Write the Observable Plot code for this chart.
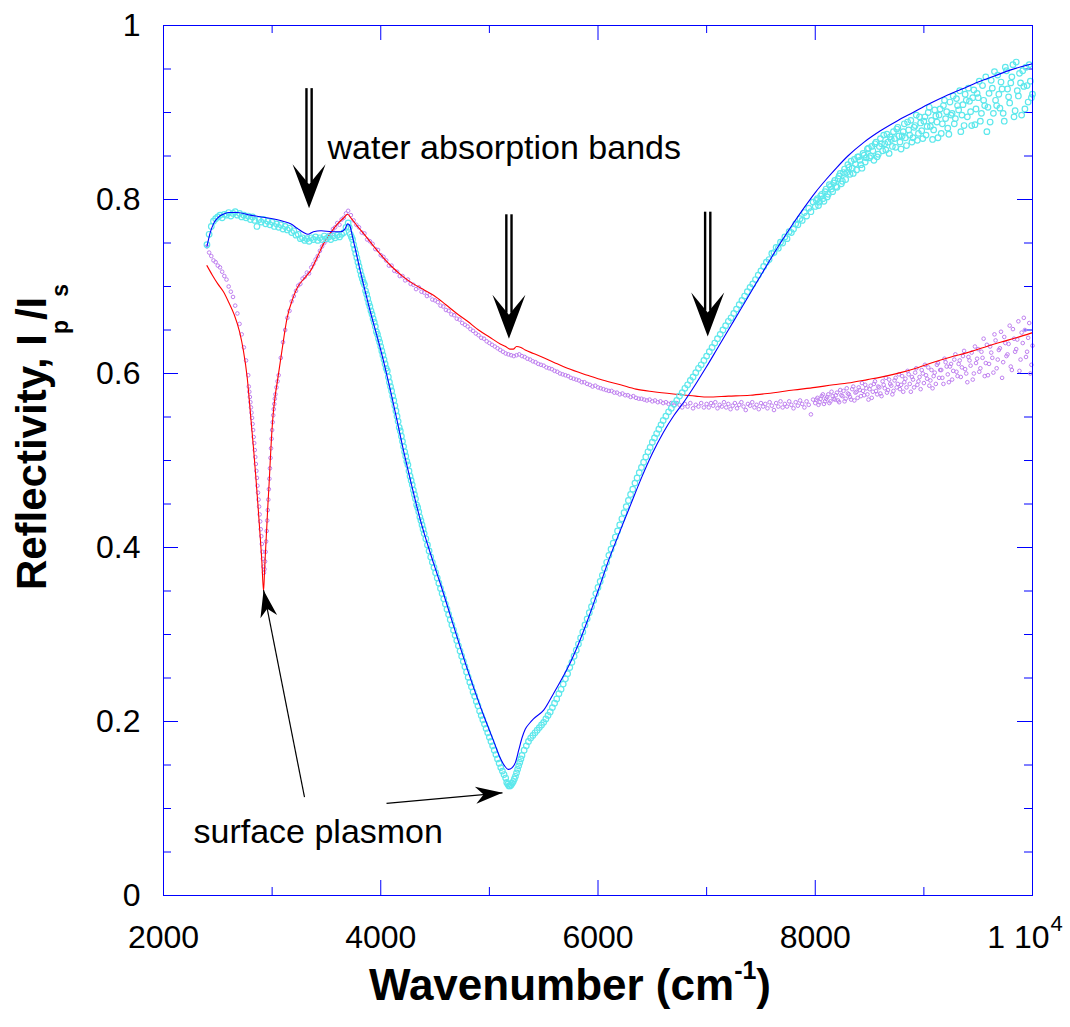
<!DOCTYPE html>
<html>
<head>
<meta charset="utf-8">
<script src="https://cdn.jsdelivr.net/npm/d3@7"></script>
<script src="https://cdn.jsdelivr.net/npm/@observablehq/plot@0.6"></script>
<style>
  html, body { margin: 0; padding: 0; background: #fff; }
  #chart svg { display: block; }
</style>
</head>
<body>
<div id="chart"></div>
<script>
// Measured p-polarised reflectivity (open cyan circles) and its model fit (blue line)
const cyanData = [
  [2400,.748],[2420,.760],[2440,.769],[2460,.775],[2480,.778],[2500,.780],[2520,.782],[2540,.779],[2560,.783],[2580,.782],
  [2600,.785],[2620,.781],[2640,.784],[2660,.786],[2680,.782],[2700,.784],[2720,.780],[2740,.782],[2760,.779],[2780,.781],
  [2800,.777],[2820,.780],[2840,.776],[2860,.769],[2880,.777],[2900,.774],[2920,.777],[2940,.772],[2960,.775],[2980,.771],
  [3000,.774],[3020,.769],[3040,.772],[3060,.768],[3080,.771],[3100,.766],[3120,.769],[3140,.765],[3160,.767],[3180,.762],
  [3200,.764],[3220,.759],[3240,.760],[3260,.755],[3280,.756],[3300,.753],[3320,.755],[3340,.752],[3360,.756],[3380,.754],
  [3400,.757],[3420,.753],[3440,.756],[3460,.754],[3480,.758],[3500,.755],[3520,.757],[3540,.754],[3560,.758],[3580,.756],
  [3600,.759],[3620,.757],[3640,.760],[3660,.762],[3680,.768],[3700,.773],
  [3710,.768],[3720,.760],[3730,.757],[3740,.754],[3750,.748],[3760,.743],[3770,.738],[3780,.733],[3790,.728],[3800,.723],
  [3810,.718],[3820,.713],[3830,.709],[3840,.705],[3850,.702],[3860,.695],[3870,.691],[3880,.686],[3890,.681],[3900,.677],
  [3910,.672],[3920,.668],[3930,.663],[3940,.659],[3950,.654],[3960,.648],[3970,.645],[3980,.640],[3990,.636],[4000,.631],
  [4010,.626],[4020,.621],[4030,.616],[4040,.611],[4050,.606],[4060,.603],[4070,.596],[4080,.590],[4090,.585],[4100,.580],
  [4110,.574],[4120,.569],[4130,.563],[4140,.557],[4150,.551],[4160,.545],[4170,.538],[4180,.534],[4190,.528],[4200,.522],
  [4210,.516],[4220,.510],[4230,.505],[4240,.499],[4250,.495],[4260,.488],[4270,.482],[4280,.477],[4290,.472],[4300,.466],
  [4310,.461],[4320,.456],[4330,.449],[4340,.446],[4350,.441],[4360,.435],[4370,.431],[4380,.426],[4390,.421],[4400,.416],
  [4415,.410],[4430,.403],[4445,.396],[4460,.389],[4475,.383],[4490,.377],[4505,.371],[4520,.365],[4535,.359],[4550,.353],
  [4565,.347],[4580,.341],[4595,.335],[4610,.329],[4625,.323],[4640,.317],[4655,.311],[4670,.305],[4685,.299],[4700,.293],
  [4715,.287],[4730,.281],[4745,.275],[4760,.269],[4775,.263],[4790,.257],[4805,.251],[4820,.245],[4835,.240],[4850,.234],
  [4865,.229],[4880,.223],[4895,.218],[4910,.212],[4925,.207],[4940,.202],[4955,.197],[4970,.192],[4985,.187],[5000,.182],
  [5015,.177],[5030,.172],[5045,.167],[5060,.162],[5075,.157],[5090,.152],[5105,.147],[5120,.143],[5135,.139],[5150,.135],
  [5160,.130],[5170,.128],[5180,.126],[5190,.126],[5200,.127],[5210,.129],[5220,.131],[5230,.134],[5240,.137],[5250,.141],
  [5260,.145],[5270,.149],[5280,.153],[5290,.157],[5300,.161],
  [5320,.167],[5340,.172],[5360,.177],[5380,.181],[5400,.184],[5420,.187],[5440,.190],[5460,.193],[5480,.196],[5500,.199],
  [5520,.203],[5540,.207],[5560,.211],[5580,.216],[5600,.221],[5620,.226],[5640,.232],[5660,.237],[5680,.243],[5700,.249],
  [5720,.255],[5740,.262],[5760,.268],[5780,.275],[5800,.282],[5820,.289],[5840,.296],[5860,.303],[5880,.311],[5900,.318],
  [5920,.325],[5940,.332],[5960,.339],[5980,.347],[6000,.354],[6020,.361],[6040,.368],[6060,.376],[6080,.383],[6100,.391],
  [6120,.398],[6140,.405],[6160,.412],[6180,.419],[6200,.426],[6220,.433],[6240,.440],[6260,.447],[6280,.454],[6300,.461],
  [6320,.467],[6340,.474],[6360,.480],[6380,.486],[6400,.492],[6420,.498],[6440,.504],[6460,.510],[6480,.515],[6500,.521],
  [6520,.526],[6540,.531],[6560,.536],[6580,.541],[6600,.546],
  [6625,.551],[6650,.556],[6675,.560],[6700,.565],[6725,.569],[6750,.574],[6775,.578],[6800,.583],[6825,.587],[6850,.592],
  [6875,.596],[6900,.601],[6925,.606],[6950,.610],[6975,.615],[7000,.620],[7025,.625],[7050,.630],[7075,.635],[7100,.640],
  [7125,.645],[7150,.650],[7175,.655],[7200,.660],[7225,.664],[7250,.669],[7275,.674],[7300,.679],[7325,.684],[7350,.689],
  [7375,.694],[7400,.699],[7425,.703],[7450,.708],[7475,.713],[7500,.718],[7525,.723],[7550,.728],[7575,.731],
  [7600,.738],[7620,.739],[7640,.745],[7660,.744],[7680,.751],[7700,.750],[7720,.757],[7740,.755],[7760,.763],[7780,.762],
  [7800,.766],[7820,.772],[7840,.771],[7860,.778],[7880,.776],[7900,.785],[7920,.781],[7940,.790],[7960,.786],[7980,.797],
  [8000,.792],[8020,.801],[8040,.797],[8060,.806],[8080,.798],[8100,.812],[8120,.806],[8140,.815],[8160,.809],[8180,.822],
  [8200,.814],[8220,.827],[8240,.818],[8260,.831],[8280,.823],[8300,.840],[8320,.829],[8340,.836],[8360,.846],[8380,.834],
  [8400,.849],[8420,.840],[8440,.853],[8460,.843],[8480,.858],[8500,.848],[8520,.861],[8540,.845],[8560,.866],[8580,.852],
  [8600,.870],[8620,.856],[8640,.864],[8660,.875],[8680,.853],[8700,.869],[8720,.878],[8740,.860],[8760,.883],[8780,.866],
  [8800,.873],[8820,.887],[8840,.862],[8860,.880],[8880,.891],[8900,.871],[8920,.885],[8940,.868],[8960,.895],[8980,.879],
  [9000,.890],[9020,.874],[9040,.900],[9060,.884],[9080,.869],[9100,.903],[9120,.889],[9140,.897],[9160,.876],[9180,.908],
  [9200,.893],[9220,.882],[9240,.912],[9260,.899],[9280,.887],[9300,.916],[9320,.903],[9340,.878],[9360,.909],[9380,.921],
  [9400,.895],[9420,.913],[9440,.885],[9460,.926],[9480,.904],[9500,.917],[9520,.890],[9540,.931],[9560,.908],[9580,.878],
  [9600,.922],[9620,.937],[9640,.899],[9660,.914],[9680,.943],[9700,.905],[9720,.927],[9740,.890],[9760,.948],[9780,.918],
  [9800,.934],[9820,.955],[9840,.902],[9860,.925],[9880,.945],[9900,.897],[9920,.930],[9940,.952],[9960,.912],[9980,.936],
  [10000,.921]
];

// Second scan of the same sample across the noisy high-wavenumber end
const cyanDataTail = [
  [8010,.799],[8030,.793],[8050,.804],[8070,.801],[8090,.809],[8110,.803],[8130,.817],[8150,.812],[8170,.819],[8190,.815],
  [8210,.824],[8230,.830],[8250,.821],[8270,.835],[8290,.831],[8310,.837],[8330,.844],[8350,.830],[8370,.841],[8390,.849],
  [8410,.845],[8430,.836],[8450,.851],[8470,.848],[8490,.859],[8510,.850],[8530,.856],[8550,.864],[8570,.849],[8590,.861],
  [8610,.864],[8630,.874],[8650,.857],[8670,.866],[8690,.872],[8710,.861],[8730,.870],[8750,.881],[8770,.873],[8790,.858],
  [8810,.878],[8830,.871],[8850,.889],[8870,.874],[8890,.866],[8910,.883],[8930,.897],[8950,.876],[8970,.888],[8990,.870],
  [9010,.895],[9030,.884],[9050,.906],[9070,.891],[9090,.880],[9110,.896],[9130,.871],[9150,.904],[9170,.887],[9190,.914],
  [9210,.901],[9230,.875],[9250,.897],[9270,.919],[9290,.893],[9310,.908],[9330,.925],[9350,.897],[9370,.885],[9390,.914],
  [9410,.928],[9430,.901],[9450,.917],[9470,.886],[9490,.922],[9510,.936],[9530,.899],[9550,.914],[9570,.941],[9590,.906],
  [9610,.889],[9630,.928],[9650,.947],[9670,.908],[9690,.921],[9710,.935],[9730,.899],[9750,.952],[9770,.927],[9790,.911],
  [9810,.941],[9830,.895],[9850,.958],[9870,.919],[9890,.934],[9910,.948],[9930,.904],[9950,.931],[9970,.955],[9990,.917]
];

const blueFit = [
  [2400,.746],[2430,.762],[2460,.772],[2500,.779],[2550,.783],[2600,.785],[2680,.785],[2800,.782],[2950,.779],[3100,.775],
  [3170,.772],[3230,.767],[3290,.762],[3330,.760],[3380,.763],[3450,.764],[3550,.763],[3630,.763],[3670,.766],[3695,.772],
  [3715,.770],[3740,.757],[3770,.741],[3800,.724],[3840,.703],[3900,.673],[3970,.641],[4030,.612],[4090,.580],[4150,.546],
  [4210,.511],[4274,.477],[4366,.431],[4430,.404],[4486,.382],[4560,.354],[4640,.322],[4720,.290],[4800,.259],[4880,.230],
  [4950,.206],[5000,.190],[5050,.174],[5100,.158],[5140,.149],[5176,.145],[5210,.147],[5240,.153],[5270,.167],[5300,.181],
  [5330,.191],[5370,.198],[5406,.203],[5500,.213],[5590,.232],[5680,.252],[5750,.269],[5800,.283],[5900,.315],[6000,.350],
  [6100,.386],[6200,.418],[6300,.449],[6400,.480],[6500,.508],[6600,.532],[6700,.552],[6800,.569],[6900,.588],[7000,.608],
  [7100,.629],[7200,.650],[7300,.671],[7400,.692],[7500,.713],[7600,.734],[7700,.754],[7800,.773],[7900,.791],[8000,.808],
  [8100,.823],[8200,.837],[8300,.850],[8450,.866],[8600,.879],[8750,.890],[8900,.900],[9050,.910],[9200,.919],[9350,.927],
  [9500,.935],[9650,.942],[9800,.949],[10000,.956]
];

// Measured reflectivity of the second sample (small violet circles) and its model fit (red line)
const purpleData = [
  [2400,.746],[2420,.739],[2440,.735],[2460,.730],[2480,.728],[2500,.724],[2520,.722],[2540,.717],[2560,.712],[2580,.708],
  [2600,.700],[2620,.694],[2640,.688],[2660,.678],[2680,.669],[2700,.657],[2720,.645],[2740,.630],[2760,.615],[2780,.598],
  [2785,.585],[2790,.579],[2795,.573],[2800,.567],[2805,.561],[2810,.555],[2815,.549],[2820,.542],[2825,.535],[2830,.527],
  [2835,.520],[2840,.512],[2845,.504],[2850,.496],[2855,.488],[2860,.480],[2865,.471],[2870,.463],[2875,.455],[2880,.447],
  [2885,.438],[2890,.430],[2895,.421],[2900,.413],[2905,.404],[2910,.395],[2915,.387],[2920,.378],[2925,.371],[2930,.375],
  [2935,.384],[2940,.395],[2945,.407],[2950,.419],[2955,.431],[2960,.443],[2965,.455],[2970,.467],[2975,.479],[2980,.491],
  [2985,.503],[2990,.514],[2995,.525],[3000,.535],[3005,.544],[3010,.552],[3015,.559],[3020,.565],[3025,.571],[3030,.576],
  [3040,.584],[3050,.591],[3060,.598],
  [3080,.618],[3100,.636],[3120,.650],[3140,.664],[3160,.672],[3180,.683],[3200,.689],[3220,.695],[3240,.701],[3260,.703],
  [3280,.709],[3300,.711],[3320,.716],[3340,.715],[3360,.722],[3380,.726],[3400,.731],[3420,.735],[3440,.741],[3460,.746],
  [3480,.750],[3500,.753],[3520,.759],[3540,.760],[3560,.766],[3580,.768],[3600,.773],[3620,.771],[3640,.777],[3660,.779],
  [3680,.784],[3700,.787],
  [3725,.782],[3750,.776],[3775,.771],[3800,.768],[3825,.762],[3850,.761],[3875,.754],[3900,.752],[3925,.749],[3950,.743],
  [3975,.742],[4000,.736],[4025,.734],[4050,.730],[4075,.724],[4100,.724],[4125,.718],[4150,.717],[4175,.712],[4200,.712],
  [4225,.707],[4250,.708],[4275,.703],[4300,.702],[4325,.697],[4350,.699],[4375,.694],[4400,.693],[4425,.689],[4450,.690],
  [4475,.685],[4500,.684],[4525,.682],[4550,.678],[4575,.677],[4600,.673],[4625,.672],[4650,.668],[4675,.667],[4700,.663],
  [4725,.662],[4750,.658],[4775,.656],[4800,.654],[4825,.651],[4850,.649],[4875,.646],[4900,.644],[4925,.641],[4950,.640],
  [4975,.637],[5000,.635],[5025,.633],[5050,.631],[5075,.629],[5100,.627],[5125,.625],[5150,.623],[5175,.622],[5200,.621],
  [5225,.620],[5250,.621],[5275,.622],[5300,.620],[5325,.619],[5350,.617],[5375,.616],[5400,.614],[5425,.613],[5450,.611],
  [5475,.610],[5500,.609],[5525,.607],[5550,.606],[5575,.605],[5600,.603],[5625,.602],[5650,.600],[5675,.599],[5700,.598],
  [5725,.597],[5750,.595],[5775,.594],[5800,.593],[5825,.592],[5850,.590],[5875,.590],[5900,.588],[5925,.587],[5950,.585],
  [5975,.586],[6000,.584],[6025,.583],[6050,.582],[6075,.581],[6100,.580],[6125,.580],[6150,.578],[6175,.578],[6200,.576],
  [6225,.577],[6250,.575],[6275,.575],[6300,.573],[6325,.574],[6350,.572],[6375,.571],[6400,.571],[6425,.570],[6450,.569],
  [6475,.570],[6500,.568],[6525,.569],[6550,.567],[6575,.568],[6600,.566],[6625,.567],[6650,.565],[6675,.566],[6700,.563],
  [6725,.566],[6750,.564],[6775,.561],[6800,.565],[6825,.562],[6850,.566],[6875,.560],[6900,.564],[6925,.562],[6950,.566],
  [6975,.561],
  [7000,.565],[7020,.561],[7040,.566],[7060,.563],[7080,.567],[7100,.560],[7120,.564],[7140,.562],[7160,.567],[7180,.561],
  [7200,.565],[7220,.559],[7240,.563],[7260,.566],[7280,.560],[7300,.564],[7320,.567],[7340,.562],[7360,.558],[7380,.565],
  [7400,.563],[7420,.567],[7440,.561],[7460,.564],[7480,.559],[7500,.566],[7520,.562],[7540,.565],[7560,.560],[7580,.567],
  [7600,.563],[7620,.558],[7640,.566],[7660,.562],[7680,.568],[7700,.561],[7720,.565],[7740,.562],[7760,.568],[7780,.564],
  [7800,.560],[7820,.567],[7840,.563],[7860,.569],[7880,.565],[7900,.561],[7920,.568],[7940,.564],[7960,.553],[7980,.570],
  [8000,.566],[8020,.572],[8040,.567],[8060,.574],[8080,.565],[8100,.571],[8120,.576],[8140,.568],[8160,.574],[8180,.570],
  [8200,.578],[8220,.567],[8240,.575],[8260,.580],[8280,.571],[8300,.577],[8320,.573],[8340,.582],[8360,.569],[8380,.579],
  [8400,.584],[8420,.574],[8440,.580],[8460,.587],[8480,.576],[8500,.582],[8520,.572],[8540,.588],[8560,.580],[8580,.585],
  [8600,.577],[8620,.591],[8640,.583],[8660,.578],[8680,.593],[8700,.586],[8720,.580],[8740,.595],[8760,.588],[8780,.582],
  [8800,.597],[8820,.590],[8840,.584],[8860,.599],[8880,.579],[8900,.593],[8920,.601],[8940,.587],[8960,.596],[8980,.604],
  [9000,.589],[9020,.598],[9040,.607],[9060,.592],[9080,.583],[9100,.601],[9120,.610],[9140,.595],[9160,.604],[9180,.588],
  [9200,.613],[9220,.599],[9240,.608],[9260,.593],[9280,.616],[9300,.602],[9320,.611],[9340,.596],[9360,.620],[9380,.605],
  [9400,.590],[9420,.615],[9440,.624],[9460,.600],[9480,.612],[9500,.628],[9520,.606],[9540,.618],[9560,.597],[9580,.633],
  [9600,.611],[9620,.624],[9640,.601],[9660,.638],[9680,.616],[9700,.629],[9720,.595],[9740,.642],[9760,.620],[9780,.634],
  [9800,.608],[9820,.651],[9840,.625],[9860,.639],[9880,.603],[9900,.647],[9920,.664],[9940,.619],[9960,.641],[9980,.600],
  [10000,.632]
];

const purpleDataTail = [
  [8010,.570],[8030,.564],[8050,.571],[8070,.576],[8090,.568],[8110,.573],[8130,.566],[8150,.579],[8170,.571],[8190,.575],
  [8210,.569],[8230,.581],[8250,.574],[8270,.568],[8290,.583],[8310,.576],[8330,.570],[8350,.585],[8370,.578],[8390,.572],
  [8410,.581],[8430,.589],[8450,.575],[8470,.583],[8490,.570],[8510,.586],[8530,.579],[8550,.591],[8570,.576],[8590,.584],
  [8610,.574],[8630,.587],[8650,.595],[8670,.581],[8690,.588],[8710,.576],[8730,.592],[8750,.584],[8770,.599],[8790,.587],
  [8810,.579],[8830,.594],[8850,.603],[8870,.588],[8890,.596],[8910,.584],[8930,.606],[8950,.591],[8970,.582],[8990,.600],
  [9010,.610],[9030,.594],[9050,.586],[9070,.604],[9090,.597],[9110,.588],[9130,.612],[9150,.604],[9170,.595],[9190,.617],
  [9210,.608],[9230,.590],[9250,.611],[9270,.603],[9290,.622],[9310,.597],[9330,.615],[9350,.607],[9370,.626],[9390,.600],
  [9410,.619],[9430,.609],[9450,.593],[9470,.631],[9490,.617],[9510,.602],[9530,.625],[9550,.640],[9570,.612],[9590,.598],
  [9610,.631],[9630,.618],[9650,.645],[9670,.606],[9690,.627],[9710,.648],[9730,.613],[9750,.635],[9770,.622],[9790,.655],
  [9810,.604],[9830,.640],[9850,.628],[9870,.660],[9890,.616],[9910,.635],[9930,.650],[9950,.625],[9970,.658],[9990,.610]
];

const redFit = [
  [2400,.724],[2450,.713],[2500,.703],[2552,.694],[2600,.682],[2650,.668],[2700,.648],[2736,.626],[2770,.596],[2806,.546],
  [2830,.512],[2850,.481],[2870,.448],[2890,.413],[2905,.385],[2921,.350],[2931,.375],[2941,.400],[2951,.424],[2961,.449],
  [2972,.473],[2985,.505],[2995,.528],[3005,.546],[3015,.560],[3030,.576],[3046,.589],[3090,.626],[3138,.664],[3190,.686],
  [3234,.699],[3300,.710],[3353,.718],[3420,.735],[3473,.749],[3540,.762],[3602,.772],[3660,.779],[3694,.783],[3730,.778],
  [3780,.770],[3841,.761],[3930,.747],[4025,.733],[4100,.723],[4200,.712],[4300,.703],[4400,.696],[4486,.690],[4600,.679],
  [4700,.669],[4799,.660],[4900,.650],[5000,.642],[5100,.634],[5150,.631],[5190,.628],[5220,.628],[5250,.631],[5290,.630],
  [5330,.627],[5406,.623],[5500,.618],[5590,.613],[5719,.606],[5903,.598],[6000,.594],[6115,.590],[6207,.587],[6350,.582],
  [6511,.579],[6732,.576],[6900,.574],[7008,.573],[7200,.574],[7400,.575],[7560,.577],[7800,.581],[8000,.584],[8168,.587],
  [8300,.589],[8481,.593],[8650,.597],[8785,.601],[8950,.607],[9089,.613],[9250,.619],[9401,.624],[9550,.630],[9705,.636],
  [9850,.641],[10000,.647]
];

// Axis ticks and labels
const xMajorTicks = [2000, 4000, 6000, 8000, 10000];
const xMinorTicks = [3000, 5000, 7000, 9000];
const xLabelTicks = [2000, 4000, 6000, 8000];
const yMajorTicks = [0, 0.2, 0.4, 0.6, 0.8, 1];
const yMinorTicks = [0.05, 0.1, 0.15, 0.25, 0.3, 0.35, 0.45, 0.5, 0.55, 0.65, 0.7, 0.75, 0.85, 0.9, 0.95];
const yLabelTicks = ["0", "0.2", "0.4", "0.6", "0.8", "1"];

// Annotations: water absorption arrows (x, tail, tip), plasmon arrows and notes
const waterArrows = [
  {x: 3340, tail: 0.928, tip: 0.790},
  {x: 5180, tail: 0.783, tip: 0.640},
  {x: 7010, tail: 0.786, tip: 0.6425}
];
const plasmonArrows = [
  {x1: 3298, y1: 0.113, x2: 2921, y2: 0.351},
  {x1: 4053, y1: 0.106, x2: 5121, y2: 0.118}
];
const notes = [
  {x: 3510, y: 0.846, text: "water absorption bands"},
  {x: 2276, y: 0.0598, text: "surface plasmon"}
];

// Layout and colours
const W = 1070, H = 1027;
const mt = 25, mr = 38, mb = 132, ml = 163;
const frameW = W - ml - mr, frameH = H - mt - mb;
const AXIS = "#0000ff", BLUE = "#0000ff", RED = "#ff0000";
const CYAN = "#5ee8ec", VIOLET = "#bf80f0";
const FONT = "'Liberation Sans', Arial, Helvetica, sans-serif";

const xs = Plot.scale({x: {domain: [2000, 10000], range: [ml, W - mr]}});
const ys = Plot.scale({y: {domain: [0, 1], range: [H - mb, mt]}});

// Filled, barbed arrowhead with its tip at the origin, pointing along +y, rotated by deg
function arrowHead(len, half, notch, deg = 0) {
  const a = deg * Math.PI / 180, c = Math.cos(a), s = Math.sin(a);
  const pts = [[0, 0], [-half, -len], [0, -notch], [half, -len]]
    .map(([x, y]) => [x * c - y * s, x * s + y * c]);
  return {
    draw(ctx) {
      ctx.moveTo(pts[0][0], pts[0][1]);
      for (let i = 1; i < pts.length; i++) ctx.lineTo(pts[i][0], pts[i][1]);
      ctx.closePath();
    }
  };
}

const bigHead = {len: 44, half: 16.5, notch: 24};
const shafts = waterArrows.map(d => ({
  x: d.x, y1: d.tail, y2: ys.invert(ys.apply(d.tip) - bigHead.notch - 2)
}));

function headAngle(d) {
  const dx = xs.apply(d.x2) - xs.apply(d.x1);
  const dy = ys.apply(d.y2) - ys.apply(d.y1);
  return Math.atan2(-dx, dy) * 180 / Math.PI;
}

const px = d => d[0], py = d => d[1];
const cyanPoints = cyanData.concat(cyanDataTail);
const purplePoints = purpleData.concat(purpleDataTail);

const plot = Plot.plot({
  width: W, height: H,
  marginTop: mt, marginRight: mr, marginBottom: mb, marginLeft: ml,
  x: {domain: [2000, 10000], label: null},
  y: {domain: [0, 1], label: null},
  style: {fontFamily: FONT, background: "#fff", overflow: "visible", color: "#000"},
  marks: [
    // inward ticks on all four sides of the frame
    Plot.tickX(xMajorTicks, {x: d => d, stroke: AXIS, insetTop: frameH - 15}),
    Plot.tickX(xMajorTicks, {x: d => d, stroke: AXIS, insetBottom: frameH - 15}),
    Plot.tickX(xMinorTicks, {x: d => d, stroke: AXIS, insetTop: frameH - 8}),
    Plot.tickX(xMinorTicks, {x: d => d, stroke: AXIS, insetBottom: frameH - 8}),
    Plot.tickY(yMajorTicks, {y: d => d, stroke: AXIS, insetRight: frameW - 15}),
    Plot.tickY(yMajorTicks, {y: d => d, stroke: AXIS, insetLeft: frameW - 15}),
    Plot.tickY(yMinorTicks, {y: d => d, stroke: AXIS, insetRight: frameW - 8}),
    Plot.tickY(yMinorTicks, {y: d => d, stroke: AXIS, insetLeft: frameW - 8}),

    // data and fits
    Plot.dot(purplePoints, {x: px, y: py, r: 1.8, stroke: VIOLET, strokeWidth: 1, fill: "none"}),
    Plot.line(redFit, {x: px, y: py, stroke: RED, strokeWidth: 1.1, curve: "monotone-x"}),
    Plot.dot(cyanPoints, {x: px, y: py, r: 2.8, stroke: CYAN, strokeWidth: 1.2, fill: "none"}),
    Plot.line(blueFit, {x: px, y: py, stroke: BLUE, strokeWidth: 1.1, curve: "monotone-x"}),

    Plot.frame({stroke: AXIS, strokeWidth: 1}),

    // tick labels
    Plot.axisX({ticks: xLabelTicks, tickSize: 0, tickPadding: 30, fontSize: 32,
                tickFormat: d => String(d), label: null}),
    Plot.axisY({ticks: yMajorTicks, tickSize: 0, tickPadding: 23, fontSize: 32,
                tickFormat: (d, i) => yLabelTicks[i], label: null}),
    Plot.text([10000], {x: d => d, frameAnchor: "bottom", text: () => "1 10",
                        lineAnchor: "top", dy: 30, dx: -14, fontSize: 32}),
    Plot.text([10000], {x: d => d, frameAnchor: "bottom", text: () => "4",
                        lineAnchor: "top", dy: 20, dx: 24, fontSize: 22}),

    // water absorption arrows: double shaft with a filled barbed head
    Plot.link(shafts, {x1: "x", x2: "x", y1: "y1", y2: "y2", stroke: "#000", strokeWidth: 2.4, dx: -2.6}),
    Plot.link(shafts, {x1: "x", x2: "x", y1: "y1", y2: "y2", stroke: "#000", strokeWidth: 2.4, dx: 2.6}),
    Plot.dot(waterArrows, {x: "x", y: "tip", r: 10, fill: "#000", stroke: "none",
                           symbol: arrowHead(bigHead.len, bigHead.half, bigHead.notch)}),

    // surface plasmon arrows
    Plot.link(plasmonArrows, {x1: "x1", y1: "y1", x2: "x2", y2: "y2", stroke: "#000", strokeWidth: 1.2}),
    ...plasmonArrows.map(d => Plot.dot([d], {x: "x2", y: "y2", r: 8, fill: "#000", stroke: "none",
                                             symbol: arrowHead(27, 8.5, 19, headAngle(d))})),

    Plot.text(notes, {x: "x", y: "y", text: "text", textAnchor: "start", lineAnchor: "bottom",
                      fontSize: 34, fill: "#000"})
  ]
});

// Axis titles with sub- and superscripts
const svg = d3.select(plot);
const xt = svg.append("text")
  .attr("x", 570).attr("y", 1000)
  .attr("text-anchor", "middle")
  .attr("font-family", FONT).attr("font-weight", "bold").attr("font-size", 44).attr("fill", "#000");
xt.append("tspan").text("Wavenumber (cm");
xt.append("tspan").attr("font-size", 25).attr("dy", -21).text("-1");
xt.append("tspan").attr("dy", 21).text(")");

const yt = svg.append("text")
  .attr("transform", "translate(46,437) rotate(-90)")
  .attr("text-anchor", "middle")
  .attr("font-family", FONT).attr("font-weight", "bold").attr("font-size", 42).attr("fill", "#000");
yt.append("tspan").text("Reflectivity, I");
yt.append("tspan").attr("font-size", 23).attr("dy", 22).text("p");
yt.append("tspan").attr("dy", -22).text("/I");
yt.append("tspan").attr("font-size", 23).attr("dy", 22).text("s");

document.getElementById("chart").appendChild(plot);
</script>
</body>
</html>
